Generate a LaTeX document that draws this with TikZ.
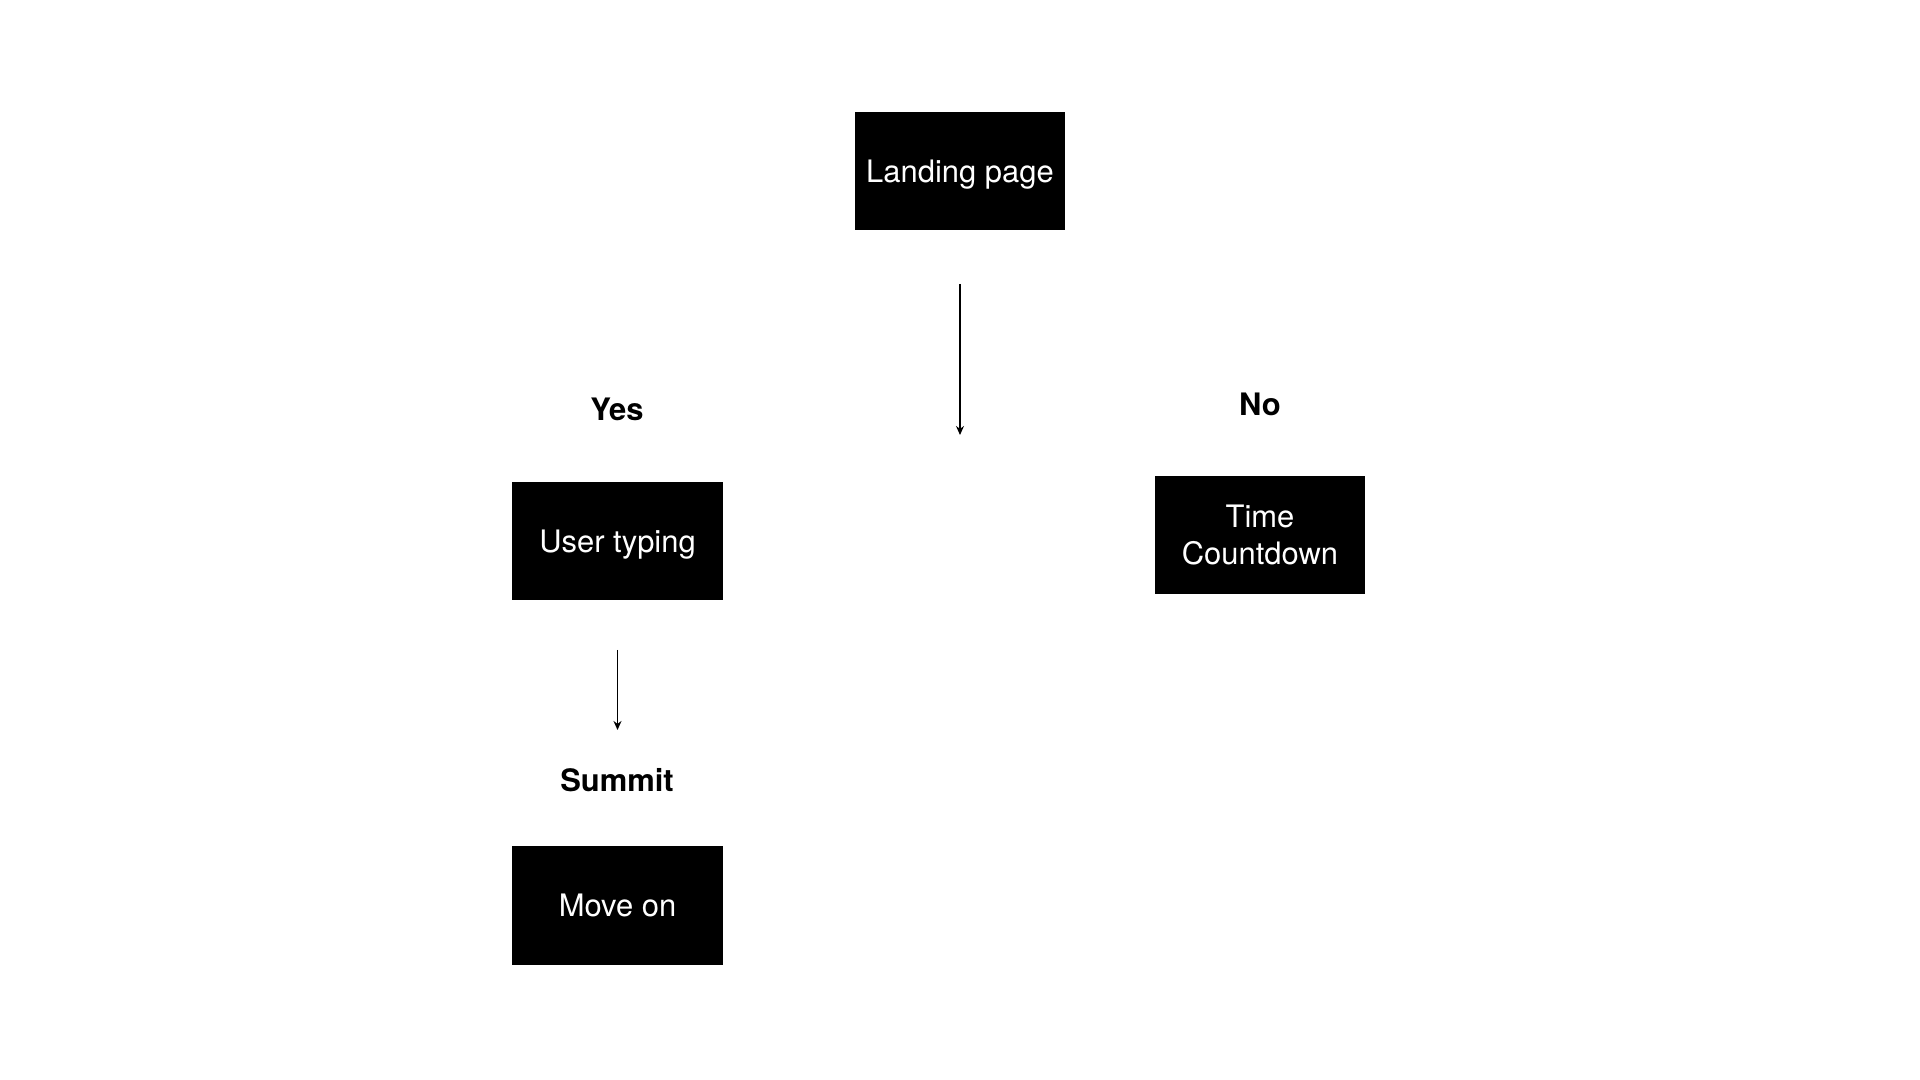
\documentclass[tikz,border=0pt]{standalone}
\usepackage{fontspec}
\setmainfont{TeX Gyre Heros}
\usetikzlibrary{arrows.meta}

\begin{document}
\begin{tikzpicture}[x=0.01cm,y=-0.01cm,
        screen/.style={fill=black,text=white,minimum width=2.1cm,minimum height=1.18cm,inner sep=0pt,align=center,
            font=\fontsize{8.8pt}{10.7pt}\selectfont,text height=8.14pt,text depth=1.8pt},
        answer/.style={inner sep=0pt,font=\fontsize{8.8pt}{10.7pt}\selectfont\bfseries,text height=8.14pt,text depth=1.8pt},
        flow/.style={line width=0.37pt,-{Stealth[length=0.09cm,width=0.08cm]}}]

        % Page
        \fill[white] (0,0) rectangle (1920,1080);
        \useasboundingbox (0,0) rectangle (1920,1080);

        % Screens
        \node[screen] (landing) at (960,171) {Landing page};
        \node[screen] (typing) at (617.5,541) {User typing};
        \node[screen,text height=18.84pt] (countdown) at (1260,535) {Time\\Countdown};
        \node[screen] (moveon) at (617.5,905.5) {Move on};

        % Answers
        \node[answer] (yes) at (617,409) {Yes};
        \node[answer] (no) at (1260,404.5) {No};
        \node[answer] (summit) at (617,780) {Summit};

        % Arrows (free standing)
        \coordinate (landingout) at (960,284);
        \coordinate (branch) at (960,435);
        \coordinate (typingout) at (617.5,650);
        \coordinate (summitin) at (617.5,730);
        \draw[flow] (landingout) -- (branch);
        \draw[flow] (typingout) -- (summitin);

    \end{tikzpicture}
\end{document}
